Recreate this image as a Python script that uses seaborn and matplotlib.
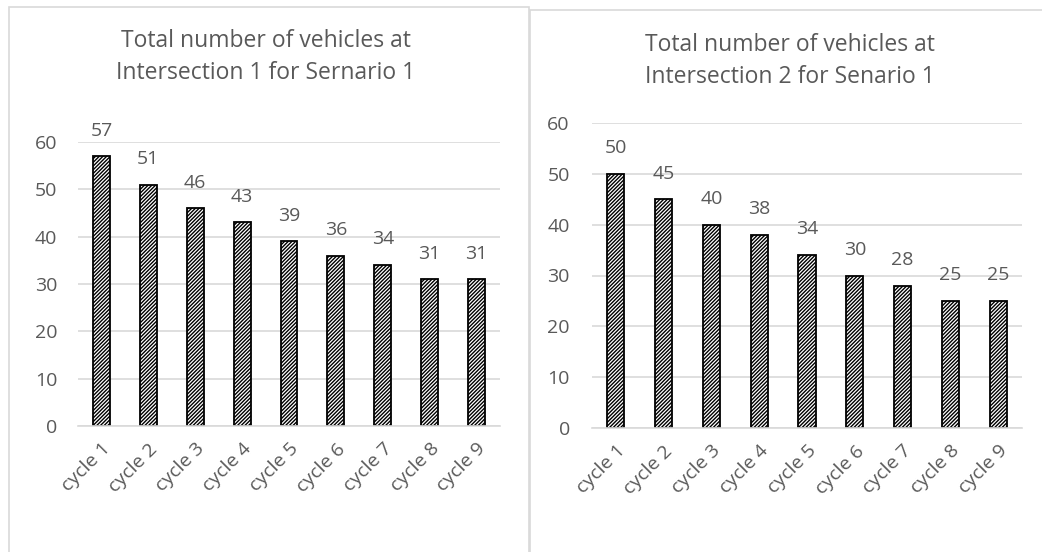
import matplotlib
matplotlib.use("Agg")
import matplotlib.pyplot as plt
import seaborn as sns
from matplotlib.patches import Rectangle

cycles = ["cycle 1", "cycle 2", "cycle 3", "cycle 4", "cycle 5",
          "cycle 6", "cycle 7", "cycle 8", "cycle 9"]
int1_vehicles = [57, 51, 46, 43, 39, 36, 34, 31, 31]
int2_vehicles = [50, 45, 40, 38, 34, 30, 28, 25, 25]
titles = [
    "Total number of vehicles at\nIntersection 1 for Sernario 1",
    "Total number of vehicles at\nIntersection 2 for Senario 1",
]
yticks = [0, 10, 20, 30, 40, 50, 60]

sns.set_theme(style="white")
plt.rcParams["font.family"] = ["Open Sans", "DejaVu Sans"]
plt.rcParams["hatch.linewidth"] = 1.0
grey = "#595959"

fig = plt.figure(figsize=(10.42, 5.52), dpi=100)
W, H = 1042, 552

# chart frames (Excel style light borders)
fig.patches.append(Rectangle((9 / W, -0.1), 520 / W, 1.1 - 7 / H,
                             transform=fig.transFigure, fill=False,
                             edgecolor="#d9d9d9", linewidth=1.2))
fig.patches.append(Rectangle((530 / W, -0.1), 520 / W, 1.1 - 10 / H,
                             transform=fig.transFigure, fill=False,
                             edgecolor="#d9d9d9", linewidth=1.2))

ax1 = fig.add_axes([78 / W, 1 - 426 / H, 422 / W, 284 / H])
ax2 = fig.add_axes([592 / W, 1 - 428 / H, 430 / W, 305 / H])
title_y = [1 - 57 / H, 1 - 61 / H]
title_x = [266 / W, 790 / W]
ypads = [15, 16]

for i, (ax, vals) in enumerate([(ax1, int1_vehicles), (ax2, int2_vehicles)]):
    sns.barplot(x=cycles, y=vals, color="white", edgecolor="black",
                linewidth=1.3, hatch="/////////", width=0.36, ax=ax,
                saturation=1)
    ax.set_ylim(0, 60)
    ax.set_yticks(yticks)
    ax.set_xlim(-0.5, len(cycles) - 0.5)
    ax.yaxis.grid(True, color="#d9d9d9", linewidth=1.2)
    ax.set_axisbelow(True)
    for s in ["top", "right", "left"]:
        ax.spines[s].set_visible(False)
    ax.spines["bottom"].set_color("#d9d9d9")
    ax.spines["bottom"].set_linewidth(1.2)
    ax.tick_params(axis="y", colors=grey, labelsize=14, length=0,
                   pad=ypads[i])
    ax.tick_params(axis="x", colors=grey, labelsize=14, length=0, pad=10)
    plt.setp(ax.get_xticklabels(), rotation=45, ha="right",
             rotation_mode="anchor")
    ax.bar_label(ax.containers[0], color=grey, fontsize=14, padding=12)
    ax.set_xlabel("")
    ax.set_ylabel("")
    fig.text(title_x[i], title_y[i], titles[i], ha="center", va="center",
             color=grey, fontsize=16.5, linespacing=1.4)

fig.savefig("out.png", dpi=100)
